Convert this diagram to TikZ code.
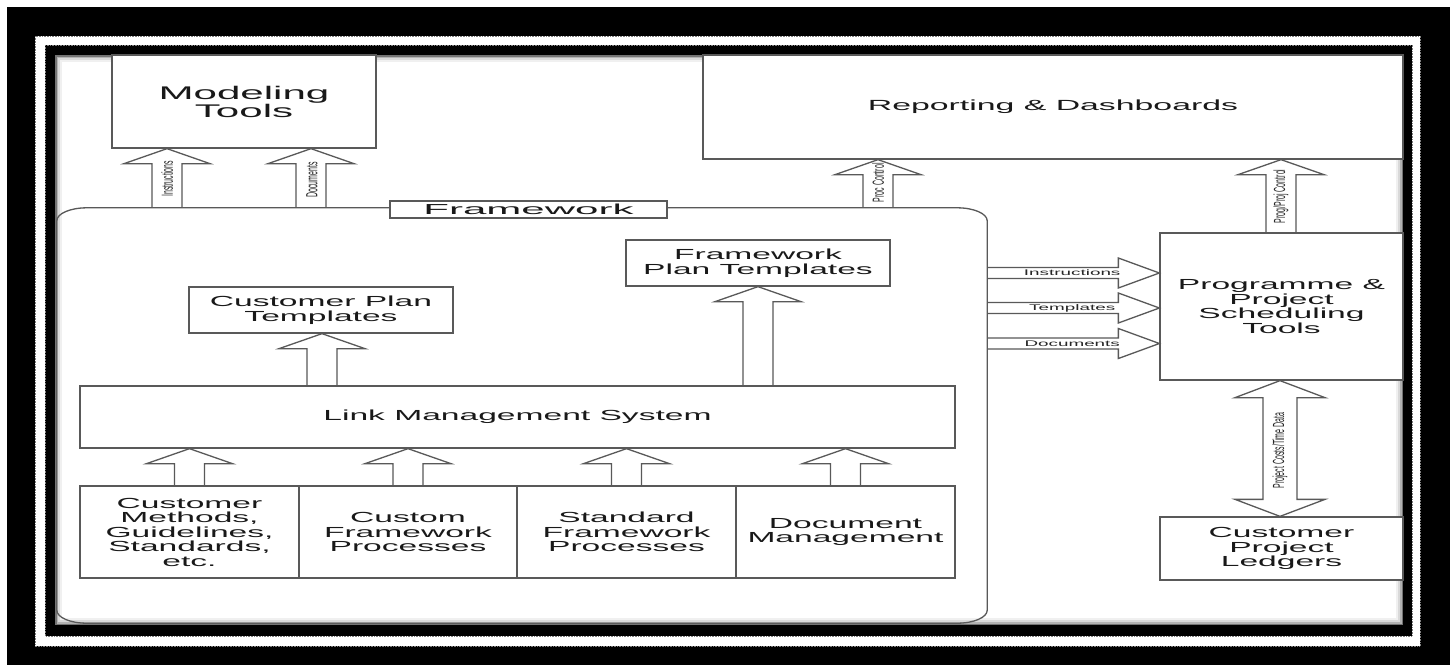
\documentclass[tikz,border=0pt]{standalone}
\usepackage{graphicx}
\usepackage{fontspec}
\setmainfont{Liberation Sans}
\newfontfamily\wfont[FakeStretch=2.3]{Liberation Sans}
\newfontfamily\wwfont[FakeStretch=2.9]{Liberation Sans}
\usetikzlibrary{calc}
\tikzset{
  box/.style={draw=black!65, line width=1.3pt, fill=white, inner sep=0pt, align=center,
    text=black!90, font=\wfont\fontsize{14.6}{14.5}\selectfont},
  blk/.style={draw=black!65, line width=1.3pt, line join=miter},
  hlab/.style={font=\wfont\fontsize{8.2}{9}\selectfont, text=black!85, inner sep=0pt},
  vlab/.style={rotate=90, font=\fontsize{7}{8}\selectfont, text=black!85, inner sep=0pt},
  edgeln/.style={draw=black!65, line width=1.3pt},
}
\newcommand\arrowup[3]{%
  \draw[blk] ($(#1|-#2)+(-15,0)$) -- ($(#1|-#3)+(-15,15)$) -- ($(#1|-#3)+(-43,15)$)
    -- (#1|-#3) -- ($(#1|-#3)+(43,15)$) -- ($(#1|-#3)+(15,15)$) -- ($(#1|-#2)+(15,0)$);}
\newcommand\arrowright[3]{%
  \draw[blk] ($(#2|-#1)+(0,-5.5)$) -- ($(#3|-#1)+(-41,-5.5)$) -- ($(#3|-#1)+(-41,-15)$)
    -- (#3|-#1) -- ($(#3|-#1)+(-41,15)$) -- ($(#3|-#1)+(-41,5.5)$) -- ($(#2|-#1)+(0,5.5)$);}
\begin{document}
\begin{tikzpicture}[x=1pt,y=-1pt]
\useasboundingbox (0,0) rectangle (1455,665);
% frame
\fill[white] (0,0) rectangle (1455,665);
\fill[black] (7,7) rectangle (1450,665);
\fill[white] (35,36) rectangle (1420,646);
\draw[black!50, densely dotted, line width=0.6pt] (35,36) rectangle (1420,646);
\fill[black] (45,45) rectangle (1412,636);
\draw[black!50, densely dotted, line width=0.6pt] (45,45) rectangle (1412,636);
\fill[white] (55,55) rectangle (1403,625);
\draw[black!55, line width=1.5pt] (55.75,55.75) rectangle (1402.25,624.25);
\draw[black!30, line width=1.5pt] (57.25,57.25) rectangle (1400.75,622.75);
\draw[black!15, line width=2pt] (59,59) rectangle (1399,621);
\draw[black!6, line width=2pt] (61,61) rectangle (1397,619);

% framework container
\node[inner sep=0pt, minimum width=930pt, minimum height=415pt] (fw) at (522,415.5) {};
\draw[edgeln] ($(fw.north west)+(30,0)$) -- ($(fw.north east)+(-30,0)$)
  .. controls +(16.6,0) and +(0,-7.2) .. ($(fw.north east)+(0,13)$)
  -- ($(fw.south east)+(0,-13)$)
  .. controls +(0,7.2) and +(16.6,0) .. ($(fw.south east)+(-30,0)$)
  -- ($(fw.south west)+(30,0)$)
  .. controls +(-16.6,0) and +(0,7.2) .. ($(fw.south west)+(0,-13)$)
  -- ($(fw.north west)+(0,13)$)
  .. controls +(0,-7.2) and +(-16.6,0) .. cycle;
\node[box, minimum width=277pt, minimum height=17pt, font=\wwfont\fontsize{14.5}{15}\selectfont] (fwl) at (528.5,209.5) {Framework};

% boxes
\node[box, minimum width=264pt, minimum height=93pt, font=\wfont\fontsize{18.3}{17}\selectfont] (mt) at (244,101.5) {Modeling\\Tools};
\node[box, minimum width=700pt, minimum height=104pt, font=\wfont\fontsize{14.7}{15}\selectfont] (rep) at (1053,107) {\raisebox{-2pt}{Reporting \& Dashboards}};
\node[box, minimum width=264pt, minimum height=46pt] (fpt) at (758,263) {Framework\\Plan Templates};
\node[box, minimum width=264pt, minimum height=46pt] (cpt) at (321,310) {Customer Plan\\Templates};
\node[box, minimum width=875pt, minimum height=62pt] (lms) at (517.5,417) {Link Management System};
\node[box, minimum width=219pt, minimum height=92pt] (b1) at (189.5,532) {Customer\\Methods,\\Guidelines,\\Standards,\\etc.};
\node[box, minimum width=218pt, minimum height=92pt] (b2) at (408,532) {Custom\\Framework\\Processes};
\node[box, minimum width=219pt, minimum height=92pt] (b3) at (626.5,532) {Standard\\Framework\\Processes};
\node[box, minimum width=219pt, minimum height=92pt] (b4) at (845.5,532) {Document\\Management};
\node[box, minimum width=243pt, minimum height=147pt] (prog) at (1281.5,306.5) {Programme \&\\Project\\Scheduling\\Tools};
\node[box, minimum width=243pt, minimum height=63pt] (cpl) at (1281.5,548.5) {Customer\\Project\\Ledgers};

% reference coordinates
\coordinate (xa1) at (167,0);
\coordinate (xa2) at (311,0);
\coordinate (xa3) at (878,0);
\coordinate (xa4) at (1281,0);
\coordinate (xa5) at (1280,0);
\coordinate (xa6) at (322,0);
\coordinate (xa7) at (758,0);
\coordinate (ya1) at (0,273);
\coordinate (ya2) at (0,308);
\coordinate (ya3) at (0,343.5);

% block arrows
\arrowup{xa1}{fw.north}{mt.south}
\arrowup{xa2}{fw.north}{mt.south}
\arrowup{xa3}{fw.north}{rep.south}
\arrowup{xa4}{prog.north}{rep.south}
\arrowup{xa6}{lms.north}{cpt.south}
\arrowup{xa7}{lms.north}{fpt.south}
\arrowup{b1}{b1.north}{lms.south}
\arrowup{b2}{b2.north}{lms.south}
\arrowup{b3}{b3.north}{lms.south}
\arrowup{b4}{b4.north}{lms.south}
\arrowright{ya1}{fw.east}{prog.west}
\arrowright{ya2}{fw.east}{prog.west}
\arrowright{ya3}{fw.east}{prog.west}
\draw[blk] (xa5|-prog.south) -- ++(45,17) -- ++(-28,0) -- ($(xa5|-cpl.north)+(17,-17)$)
  -- ++(28,0) -- (xa5|-cpl.north) -- ++(-45,-17) -- ++(28,0)
  -- ($(xa5|-prog.south)+(-17,17)$) -- ++(-28,0) -- cycle;

% arrow labels
\node[vlab] at ($(xa1|-fw.north)+(0,-29)$) {\scalebox{1}[2.3]{Instructions}};
\node[vlab] at ($(xa2|-fw.north)+(1,-28)$) {\scalebox{1}[2.3]{Documents}};
\node[vlab] at ($(xa3|-fw.north)+(0,-25)$) {\scalebox{1}[2.3]{Proc Control}};
\node[vlab] at ($(xa4|-prog.north)+(0,-36)$) {\scalebox{1}[2.3]{Prog/Proj Control}};
\node[vlab] at ($(xa5|-prog.south)+(0,70)$) {\scalebox{1}[2.3]{Project Costs/Time Data}};
\node[hlab] at ($(fw.east|-ya1)+(85,0)$) {Instructions};
\node[hlab] at ($(fw.east|-ya2)+(85,0)$) {Templates};
\node[hlab] at ($(fw.east|-ya3)+(85,0)$) {Documents};
\end{tikzpicture}
\end{document}
